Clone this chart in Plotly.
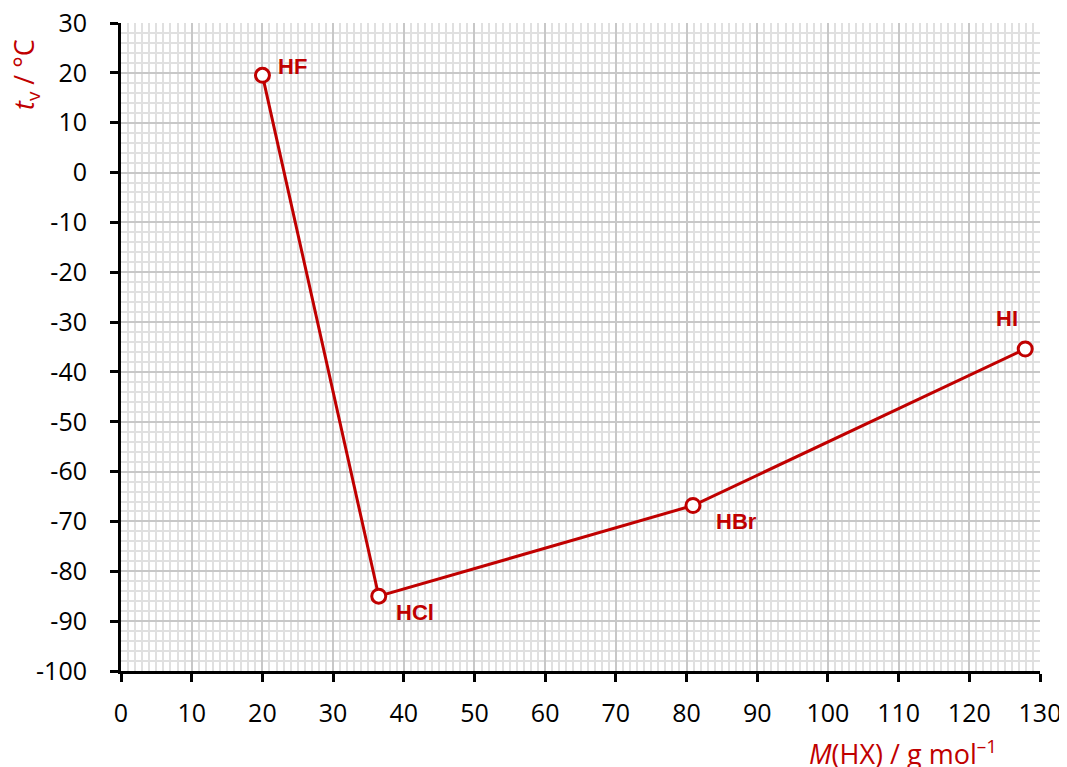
import plotly.graph_objects as go

compounds = ["HF", "HCl", "HBr", "HI"]
molar_mass = [20.01, 36.46, 80.91, 127.91]
boiling_point = [19.5, -85.0, -66.8, -35.4]
label_shift_x = [30, 36, 44, -18]
label_shift_y = [9, -16, -16, 30]

x_ticks = list(range(0, 131, 10))
y_ticks = list(range(-100, 31, 10))
y_tick_text = [str(v) for v in y_ticks]  # plain hyphen minus as in reference

RED = "#C00000"
FONT = "Open Sans, Lato, sans-serif"

fig = go.Figure()
fig.add_trace(go.Scatter(
    x=molar_mass, y=boiling_point, mode="lines+markers",
    line=dict(color=RED, width=3),
    marker=dict(symbol="circle", size=14, color="white",
                line=dict(color=RED, width=3)),
    showlegend=False, hoverinfo="skip"))

for name, mx, by, sx, sy in zip(compounds, molar_mass, boiling_point, label_shift_x, label_shift_y):
    fig.add_annotation(x=mx, y=by, text="<b>%s</b>" % name, showarrow=False,
                       xshift=sx, yshift=sy,
                       font=dict(family="Liberation Sans, Arial, sans-serif", size=22, color=RED))

fig.add_annotation(xref="paper", yref="paper", x=(25 - 121) / 919, y=(671 - 75) / 648,
                   text="<i>t</i><sub>v</sub> / °C", textangle=-90, showarrow=False,
                   xanchor="center", yanchor="middle",
                   font=dict(family=FONT, size=27, color=RED))
fig.add_annotation(xref="paper", yref="paper", x=(903 - 121) / 919, y=(671 - 752) / 648,
                   text="<i>M</i>(HX) / g mol<sup>–1</sup>", showarrow=False,
                   xanchor="center", yanchor="middle",
                   font=dict(family=FONT, size=27, color=RED))

fig.update_xaxes(range=[0, 130], tickvals=x_ticks, ticktext=[str(v) for v in x_ticks],
                 automargin=False,
                 showgrid=True, gridcolor="#c8c8c8", gridwidth=2,
                 minor=dict(dtick=1, tick0=0, showgrid=True, gridcolor="#e0e0e0", gridwidth=1.5),
                 showline=True, linecolor="black", linewidth=3,
                 ticks="outside", ticklen=8, tickwidth=2.5, tickcolor="black",
                 ticklabelstandoff=10, ticklabeloverflow="allow",
                 zeroline=False, tickfont=dict(family=FONT, size=25, color="black"))
fig.update_yaxes(range=[-100, 30], tickvals=y_ticks, ticktext=y_tick_text,
                 automargin=False,
                 showgrid=True, gridcolor="#c8c8c8", gridwidth=2,
                 minor=dict(dtick=2, tick0=0, showgrid=True, gridcolor="#e0e0e0", gridwidth=1.5),
                 showline=True, linecolor="black", linewidth=3,
                 ticks="outside", ticklen=8, tickwidth=2.5, tickcolor="black",
                 ticklabelstandoff=18, ticklabeloverflow="allow",
                 zeroline=False, tickfont=dict(family=FONT, size=25, color="black"))

# the page body has an 8px margin, so the figure is shrunk and shifted to match
fig.update_layout(width=1059, height=759, margin=dict(l=113, r=27, t=15, b=96, autoexpand=False),
                  plot_bgcolor="white", paper_bgcolor="white")

fig.write_html("out.html")
